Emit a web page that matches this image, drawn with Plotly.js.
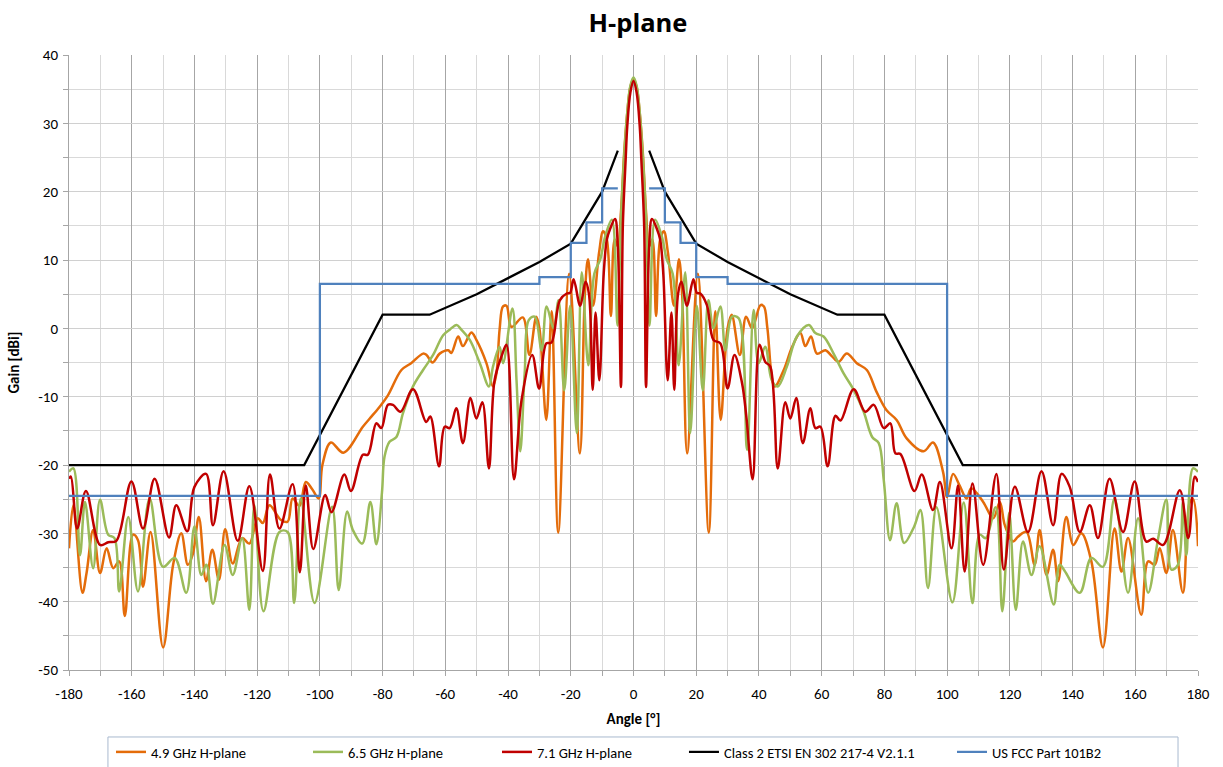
<!DOCTYPE html>
<html>
<head>
<meta charset="utf-8">
<script src="https://cdn.plot.ly/plotly-3.0.1.min.js"></script>
<style>
html,body{margin:0;padding:0;background:#fff;}
#chart{width:1223px;height:767px;}
</style>
</head>
<body>
<div id="chart"></div>
<script>
// ---- 4.9 GHz H-plane ----
const orangeAngle = [-180,-178.6,-175.7,-174.4,-172.3,-170.1,-168,-165.9,-164,-162.2,-159.6,-158,-156.4,-154,-150,-146.8,-144.2,-142.1,-140.5,-138.6,-136.3,-134.3,-132.2,-130.2,-127.8,-124.8,-122.5,-119.8,-118.2,-116.1,-112.5,-110.3,-108.7,-106.5,-104.5,-102.5,-100.4,-99.2,-96.5,-92.5,-86.3,-84.1,-81,-78.3,-74,-70.9,-67.1,-66,-64.1,-61.8,-59.1,-58.1,-55.9,-54.4,-51.7,-50.1,-46.9,-44.8,-43.7,-42.7,-41.6,-40.5,-38.9,-35.3,-33.2,-31,-30,-27.8,-26.1,-24,-20.5,-17.1,-15.5,-14.5,-12.9,-11,-9.7,-8.5,-7.2,-6,-5,-4,-3,-2,-1,0,1,2,3,4,5,6,7.2,8.5,9.7,11,12.9,14.5,15.5,17.1,20.5,24,26.1,27.8,30,31.3,33.9,35.9,37.8,40.5,41.6,42.7,45,47.9,50.6,53.2,54.8,56.6,58.5,61.2,63.3,65.4,68,71.2,74.4,77.5,80.7,83.9,87.1,92.5,95.5,98.7,100,101.9,104,106.2,107.7,111.5,114.7,116.8,118.4,121,122.6,125.3,127.9,129.5,131.7,133.8,135.4,138,140.2,142.8,146,149.7,153.4,155.6,157.7,161.9,164.1,166.2,167.8,169.9,172,175.2,177.4,178.4,180];
const orangeGain = [-32.2,-25.9,-38.7,-35.8,-29.5,-35.8,-32.2,-35.1,-34.1,-42.1,-30.2,-31,-37.8,-29.8,-46.7,-34.6,-30,-34.6,-33,-27.6,-37,-32.4,-36.8,-29.4,-34.4,-30.7,-31.5,-27.8,-28.5,-25.9,-28,-28.3,-24.9,-26,-22.5,-23.5,-24.9,-20,-16.7,-18.2,-14.4,-13.2,-11.5,-9.8,-6.1,-5.1,-3.7,-3.9,-5,-3.7,-3.2,-3.6,-1.2,-2.6,-0.6,-1.7,-5.1,-8.5,-6.6,-0.2,3.2,3.3,0.2,1.6,-3.9,1.7,0,-13.4,2.5,-29.9,8,-18.3,5,10.1,3.3,11,14.2,13,1.8,13,12,17,25.5,31.5,35.3,36.5,35.3,31.5,25.5,17,12,13,1.8,13,14.2,11,3.3,10.1,5,-18.3,8,-29.9,2.5,-13.4,0,2,-3.9,1.7,0,3.4,3.2,0,-8.5,-6.1,-2.7,-0.7,-2.6,-1.2,-3.7,-3.2,-4.1,-4.9,-3.7,-5.1,-6.1,-9.3,-12,-13.4,-16.1,-18,-16.7,-21,-24.7,-21.3,-23,-24.9,-23.4,-25.4,-27.8,-25.4,-28.8,-31.2,-30.5,-29.8,-34.6,-29.5,-36.1,-32.4,-37,-27.6,-31.7,-30,-34.1,-46.7,-29.3,-35.6,-30.7,-41.9,-34.1,-34.6,-32.2,-35.8,-29.5,-38.7,-25.4,-25,-31.9];

// ---- 6.5 GHz H-plane ----
const greenAngle = [-180,-178.6,-176.5,-174.9,-172.3,-170.1,-167.5,-165.5,-164,-161.1,-158,-154.3,-150,-146.3,-142.6,-140,-137.8,-136.2,-134.1,-130.4,-127.8,-124.8,-122.5,-120.9,-118,-112.9,-110.3,-108.2,-106.1,-101.7,-96.1,-94,-91.3,-89.5,-86.5,-83.9,-82,-80.2,-79.4,-77.8,-75.6,-73.5,-70.3,-67.1,-63.9,-60.7,-58.6,-56.4,-54.9,-52.2,-49,-46.1,-44.8,-42.7,-41.6,-38.6,-37.3,-36.1,-34.7,-33.4,-31.5,-29.3,-27.7,-25.5,-23.9,-22.1,-20.2,-18.1,-16.5,-14.4,-12.5,-10.6,-9,-6.9,-5.1,-4,-3,-2,-1,0,1,2,3,4,5.1,6.9,9,10.6,12.5,14.4,16.5,18.1,20.2,22.1,23.9,25.5,27.7,29.3,31.4,33.5,36.2,38.3,39.9,42,44.1,46,48.9,52.1,55.9,58,60.6,63.8,67,70.2,73.4,76.1,78.2,79.8,81.8,83.9,86.3,89.5,91.5,93.9,96.6,101.7,105.3,108.1,110.4,112.3,115.5,117.6,119.8,121.9,124.2,126.9,129.5,134,135.9,137.5,142.3,146,149.7,153.4,157.7,160.9,164.1,167.3,169.9,171.5,173.6,175.2,176.3,178.4,180];
const greenGain = [-21,-20.5,-33.2,-25.4,-35.1,-25.1,-30.2,-30.7,-38.5,-27.6,-38.5,-24.9,-34.9,-33.6,-38.7,-29,-36.1,-34.6,-40.3,-31.7,-36.1,-30.7,-41.2,-25.9,-41.4,-29.8,-29.8,-40.2,-24.9,-40.2,-26.1,-38.3,-26.8,-29.5,-31.5,-25.4,-31.6,-24,-18.8,-16.6,-15.9,-12.4,-8.5,-6.1,-3.9,-1,-0.2,0.5,-0.2,-1.7,-5.1,-8.5,-5.6,-2.7,-5.1,2.9,-7.6,-18,-6.6,1.2,1.7,-3.2,3.2,0,4.1,-9.1,3.3,-15.3,8.2,-5.4,8,10.1,13.5,15.9,0.4,16,25,31.5,35.5,36.7,35.5,31.5,25,16,0.4,15.9,13.5,10.1,8,-5.4,8.2,-15.3,3.3,-9.1,4.1,0,3.2,-3.2,1.7,1.5,-17.8,2.7,-5.1,-2.7,-7.6,-8.5,-5.6,-1.2,0.5,-0.7,-1.2,-3.7,-6.6,-9,-12.2,-15.9,-16.8,-22.2,-31,-25.6,-31.4,-29,-26.6,-38,-26.2,-40.1,-25.5,-40.2,-30.2,-30.7,-26.2,-41.4,-27,-41.2,-31.2,-36.1,-31.9,-40.4,-34.6,-35.5,-38.7,-33.6,-34.9,-24.9,-38.7,-27.8,-38.7,-30.7,-25.1,-35.3,-34.6,-25.4,-33.2,-20.5,-21];

// ---- 7.1 GHz H-plane ----
const redAngle = [-180,-179.4,-177.4,-174.6,-170.1,-167.5,-164.9,-160.1,-156.4,-152.7,-148.1,-145.8,-142.3,-140,-136.3,-134.1,-130.7,-126.2,-122.5,-118.2,-115.9,-112.9,-108.7,-106.4,-104.5,-102.1,-98.3,-96.3,-92.2,-90.1,-86.3,-84.7,-82,-80.4,-78.3,-76.7,-74.3,-70.3,-66.1,-64.8,-62,-60.2,-58.6,-56.5,-54.4,-52,-50.1,-48.2,-46.1,-44.3,-42,-40.5,-38.1,-35.7,-32.3,-30.1,-27.8,-26.2,-23.5,-21.3,-20.2,-19.1,-17,-15.3,-14.2,-13,-12.1,-10.9,-9.5,-8.5,-7.5,-5.9,-5,-4,-3.4,-2.5,-2,-1,0,1,2,2.5,3.4,4,5,5.9,7.5,8.5,9.5,10.9,12.1,13,14.2,15.3,17,19.1,20.2,21.3,23.4,25.5,27.7,30,32.2,34.6,36,38,40.2,42,43.6,46,48.4,50,51.9,54,56.4,58,59.6,61.9,64.4,66,70.2,73.9,76.6,79.8,81.9,83.5,85.1,89.6,91.9,95.5,97.7,101.4,103.5,105.6,108.1,111.5,115.7,118.1,121.6,125.8,130.1,133.8,136.5,139.1,142.3,145.5,148.1,151.8,156.1,159.8,163.5,165.7,168.9,174.2,176.9,179,180];
const redGain = [-22,-21.7,-29.3,-23.8,-31.7,-31.3,-31.1,-22.4,-29.3,-22,-30.6,-25.9,-29.7,-23.2,-21.3,-28.8,-20.9,-31.1,-23.1,-35.5,-21.4,-29.3,-22.8,-35.7,-23,-32.3,-24.4,-26.9,-21.4,-23.8,-18.5,-18.5,-13.9,-14.6,-11.2,-11.2,-12.2,-8.9,-13.7,-12.9,-20.2,-14.4,-14.6,-11.7,-16.8,-10.2,-13.2,-10.8,-20.5,-7.6,-4,-2.4,-22.1,-10.5,-3.9,-8.8,-2.2,-2.1,4.1,5.1,5.2,7.2,3.3,6.8,5,-9,2.3,-7.6,8,13,14.5,16,12,-8.6,15,24.7,29.5,34.5,36.2,34.5,29.5,24.7,15,-8.6,12,16,14.5,13,8,-7.6,2.3,-9,5,6.8,3.3,7.2,5.2,5.1,3.4,-1.7,-2.2,-8.8,-3.9,-8,-13,-22.1,-2.4,-4.9,-5.6,-20.5,-10.8,-13.2,-10.2,-16.8,-11.7,-14.6,-14.4,-20.2,-12.8,-13.5,-8.9,-12.2,-11.2,-14.6,-13.9,-18.3,-18.4,-23.8,-21.4,-26.6,-22.5,-32.2,-23,-35.6,-22.7,-34.6,-21.3,-35.3,-23.2,-29.8,-20.9,-28.8,-21.3,-23.2,-29.8,-25.9,-30.7,-22,-29.8,-22.4,-31.2,-30.8,-31.7,-23.7,-30.7,-21.7,-22.5];

// ---- Class 2 ETSI EN 302 217-4 V2.1.1 mask ----
const etsiAngle = [-180,-105,-80,-65,-50,-40,-30,-20,-15,-10,-5,null,5,10,15,20,30,40,50,65,80,105,180];
const etsiGain = [-20,-20,2,2,5,7.3,9.7,12.4,16.2,20,26,null,26,20,16.2,12.4,9.7,7.3,5,2,2,-20,-20];

// ---- US FCC Part 101B2 mask (step) ----
const fccAngle = [-180,-100,-30,-20,-15,-10,-5,null,5,10,15,20,30,100,180];
const fccGain = [-24.5,6.5,7.5,12.5,15.5,20.5,20.5,null,20.5,15.5,12.5,7.5,6.5,-24.5,-24.5];

const seriesNames = ['4.9 GHz H-plane','6.5 GHz H-plane','7.1 GHz H-plane','Class 2 ETSI EN 302 217-4 V2.1.1','US FCC Part 101B2'];
const xTicks = [-180,-160,-140,-120,-100,-80,-60,-40,-20,0,20,40,60,80,100,120,140,160,180];
const yTicks = [-50,-40,-30,-20,-10,0,10,20,30,40];

const FONT = "'Liberation Sans Narrow', 'Carlito', 'Liberation Sans', sans-serif";
const colors = ['#E46C0A','#9BBB59','#C00000','#000000','#4F81BD'];
const legendIds = ['legend','legend2','legend3','legend4','legend5'];
const legendX = [0.0372, 0.2117, 0.3791, 0.5447, 0.7821];

const traces = [
  {x: orangeAngle, y: orangeGain, line:{color:colors[0], width:2.5, shape:'spline', smoothing:1}},
  {x: greenAngle, y: greenGain, line:{color:colors[1], width:2.5, shape:'spline', smoothing:1}},
  {x: redAngle, y: redGain, line:{color:colors[2], width:2.5, shape:'spline', smoothing:1}},
  {x: etsiAngle, y: etsiGain, line:{color:colors[3], width:2.25}, connectgaps:false},
  {x: fccAngle, y: fccGain, line:{color:colors[4], width:2.25, shape:'hv'}, connectgaps:false}
].map((t, i) => Object.assign({type:'scatter', mode:'lines', name:seriesNames[i], legend:legendIds[i]}, t));

const layout = {
  width:1223, height:767,
  margin:{l:69, r:25, t:55, b:97, autoexpand:false},
  paper_bgcolor:'#ffffff', plot_bgcolor:'#ffffff',
  font:{family:FONT, size:14, color:'#000'},
  title:{text:'<b>H-plane</b>', font:{family:"'Open Sans', 'Liberation Sans', sans-serif", size:25.5, color:'#000'},
         x:0.504, xref:'paper', xanchor:'center', y:0.97, yref:'container', yanchor:'middle'},
  showlegend:true,
  shapes:[{type:'rect', xref:'paper', yref:'paper', x0:0.0345, x1:0.9823, y0:-0.1089, y1:-0.17,
           line:{color:'#a9b9cf', width:1}, fillcolor:'rgba(0,0,0,0)', layer:'above'}],
  xaxis:{range:[-180,180], tickvals:xTicks, ticktext:xTicks.map(String),
         showgrid:true, gridcolor:'#a6a6a6', gridwidth:1,
         minor:{dtick:10, tick0:-180, showgrid:true, gridcolor:'#d9d9d9', ticks:'outside', ticklen:5, tickcolor:'#a6a6a6'},
         ticks:'outside', ticklen:5, tickcolor:'#a6a6a6',
         showline:true, linecolor:'#a6a6a6', linewidth:1, zeroline:false,
         tickfont:{family:FONT, size:15}, ticklabelstandoff:5,
         title:{text:'<b>Angle [°]</b>', font:{family:FONT, size:15}, standoff:11}},
  yaxis:{range:[-50,40], tickvals:yTicks, ticktext:yTicks.map(String),
         showgrid:true, gridcolor:'#d0d0d0', gridwidth:1,
         minor:{dtick:5, tick0:0, showgrid:true, gridcolor:'#d9d9d9', ticks:'outside', ticklen:5, tickcolor:'#a6a6a6'},
         ticks:'outside', ticklen:5, tickcolor:'#a6a6a6',
         showline:true, linecolor:'#a6a6a6', linewidth:1, zeroline:false,
         tickfont:{family:FONT, size:15}, ticklabelstandoff:2,
         title:{text:'<b>Gain [dBi]</b>', font:{family:FONT, size:15}, standoff:14}}
};
legendIds.forEach((id, i) => {
  layout[id] = {orientation:'h', x:legendX[i], xanchor:'left', y:-0.1333, yanchor:'middle',
                borderwidth:0, bgcolor:'rgba(255,255,255,0)',
                font:{family:FONT, size:14.5, color:'#000'}, itemwidth:30};
});

Plotly.newPlot('chart', traces, layout, {displayModeBar:false, staticPlot:true});
</script>
</body>
</html>
